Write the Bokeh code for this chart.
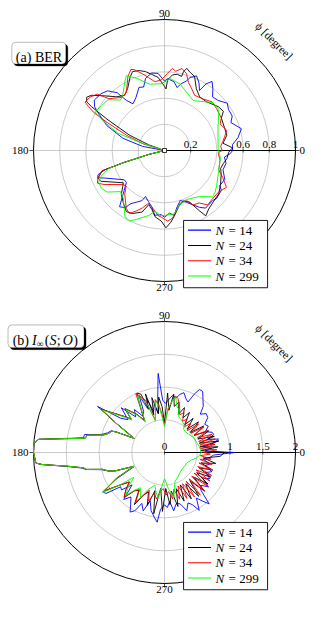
import numpy as np
from bokeh.plotting import figure
from bokeh.layouts import column
from bokeh.models import Range1d, BoxAnnotation
from bokeh.embed import file_html
from bokeh.resources import INLINE
from bokeh.core.properties import value

# ---------------- data ----------------
N_LABELS = ["14", "24", "34", "299"]
COLORS = ["#0000ff", "#000000", "#ff0000", "#00ff00"]

# (a) BER  : (angle phi [deg], BER)
ber_n14 = [(0, 0.52), (4.8, 0.52), (10, 0.57), (15.8, 0.61), (22.8, 0.55), (27, 0.58), (32.7, 0.58), (37, 0.60),
           (43, 0.56), (48.2, 0.55), (52, 0.60), (55.5, 0.64), (58, 0.60), (59.7, 0.53), (63, 0.58), (66.8, 0.62),
           (70.7, 0.59), (72.2, 0.56), (76.5, 0.52), (78.6, 0.49), (82.2, 0.53), (87.5, 0.55), (90, 0.53),
           (94.7, 0.59), (99.4, 0.60), (104.7, 0.57), (108.2, 0.51), (112, 0.52), (118.2, 0.46), (124, 0.43),
           (127.2, 0.48), (129.3, 0.57), (133.7, 0.63), (138.3, 0.65), (144.3, 0.66), (147.9, 0.63), (150.6, 0.58),
           (156.6, 0.48), (163.7, 0.33), (169.4, 0.17), (180, 0.0), (194, 0.12), (196.5, 0.33), (198, 0.48),
           (200, 0.54), (202.2, 0.55), (204.9, 0.50), (216, 0.38), (220, 0.38), (231.4, 0.55), (235.3, 0.53),
           (237.7, 0.48), (245.8, 0.42), (247.6, 0.38), (252.7, 0.41), (257.2, 0.44), (261.5, 0.50), (267, 0.49),
           (270, 0.51), (274.4, 0.48), (278.5, 0.50), (282.7, 0.44), (287.6, 0.40), (293, 0.43), (301.7, 0.51),
           (305.5, 0.54), (313.7, 0.53), (317.6, 0.54), (325, 0.53), (327.6, 0.50), (334.4, 0.51), (341.8, 0.47),
           (348.2, 0.48), (353.7, 0.46), (357, 0.50), (360, 0.52)]
ber_n24 = [(0, 0.50), (2.2, 0.52), (7.1, 0.45), (13.8, 0.49), (21, 0.49), (29.8, 0.50), (33.6, 0.54), (39.1, 0.53),
           (49.7, 0.49), (56.8, 0.49), (62.7, 0.53), (67.9, 0.61), (72.2, 0.63), (74.8, 0.65), (76.4, 0.62),
           (77, 0.58), (80.5, 0.59), (84, 0.58), (87.5, 0.54), (88.6, 0.47), (90, 0.49), (95, 0.56), (99.6, 0.59),
           (103.6, 0.62), (107.6, 0.64), (112, 0.65), (115, 0.62), (120.8, 0.55), (125.9, 0.52), (131.8, 0.55),
           (137.7, 0.62), (143, 0.70), (145.6, 0.72), (148, 0.70), (149, 0.65), (151.4, 0.50), (156.4, 0.29),
           (160.2, 0.13), (180, 0.0), (194, 0.12), (196.5, 0.32), (198, 0.50), (202.5, 0.55), (205.8, 0.54),
           (218, 0.40), (220.7, 0.42), (225.4, 0.47), (232, 0.51), (238.1, 0.55), (243, 0.54), (250, 0.50),
           (253.8, 0.43), (257.9, 0.46), (261.8, 0.51), (267.4, 0.54), (271.1, 0.59), (275, 0.55), (278.2, 0.51),
           (284.4, 0.44), (290.9, 0.41), (296.1, 0.44), (300, 0.53), (302.3, 0.59), (307, 0.56), (313.9, 0.54),
           (321.3, 0.53), (328.8, 0.50), (337.1, 0.47), (342.3, 0.45), (347.5, 0.46), (352.5, 0.48), (358.3, 0.49),
           (360, 0.50)]
ber_n34 = [(0, 0.44), (4.3, 0.43), (8.7, 0.45), (12.8, 0.47), (17.9, 0.50), (25.4, 0.47), (29.8, 0.50), (38.9, 0.51),
           (45.6, 0.52), (53.7, 0.49), (61.3, 0.48), (66.8, 0.52), (70.6, 0.55), (74, 0.61), (78, 0.64), (82, 0.61),
           (84.5, 0.63), (87.7, 0.59), (92.6, 0.54), (97.8, 0.53), (102.4, 0.57), (106.1, 0.61), (110.6, 0.66),
           (112.5, 0.67), (116.3, 0.63), (123.3, 0.53), (128.8, 0.52), (137, 0.58), (140, 0.67), (144.5, 0.70),
           (148.6, 0.71), (150, 0.67), (151.8, 0.61), (153.9, 0.49), (158.2, 0.31), (162.8, 0.17), (180, 0.0),
           (194, 0.12), (196.5, 0.32), (198, 0.50), (202.5, 0.55), (205.9, 0.57), (209.3, 0.53), (219.4, 0.41),
           (223, 0.40), (227.6, 0.45), (236.6, 0.53), (240.8, 0.55), (244.9, 0.51), (248.9, 0.47), (253.3, 0.42),
           (257.2, 0.44), (264.5, 0.50), (267.2, 0.51), (272.6, 0.54), (276.7, 0.52), (282, 0.46), (286.6, 0.42),
           (294, 0.42), (297.6, 0.47), (303.4, 0.48), (308.4, 0.53), (314.3, 0.52), (322.3, 0.52), (329.3, 0.55),
           (335.1, 0.49), (340.3, 0.44), (350, 0.43), (357.7, 0.41), (360, 0.44)]
ber_n299 = [(0, 0.41), (22, 0.44), (37, 0.52), (44.7, 0.52), (60, 0.44), (76.7, 0.52), (85, 0.55), (93, 0.51),
            (103, 0.52), (111, 0.59), (117, 0.64), (119.6, 0.61), (127, 0.53), (131, 0.51), (138, 0.58), (145, 0.59),
            (151, 0.61), (154.2, 0.52), (159.6, 0.38), (162, 0.19), (180, 0.0), (194, 0.12), (196.5, 0.32),
            (198, 0.45), (202, 0.52), (205.8, 0.56), (211, 0.56), (216, 0.54), (223, 0.46), (229, 0.48),
            (239.3, 0.59), (243.7, 0.60), (247.5, 0.57), (256.5, 0.51), (261, 0.47), (267, 0.50), (278.7, 0.49),
            (286, 0.43), (294, 0.41), (307, 0.44), (316, 0.51), (320.8, 0.50), (326, 0.48), (340.5, 0.44),
            (353, 0.43), (360, 0.41)]

# (b) I_inf(S;O) : (angle phi [deg], mutual information)
mi_n14 = [(0, 1.07), (2, 0.62), (5, 0.72), (8, 0.60), (11, 0.78), (14, 0.85), (17, 0.68), (20, 0.80), (23, 0.79),
          (27, 0.70), (31, 0.78), (35, 0.75), (39, 0.85), (43, 0.87), (47, 0.80), (50, 0.92), (54, 1.0), (58, 1.10),
          (61, 1.10), (63, 1.0), (65, 0.85), (68, 0.88), (72, 0.96), (75, 0.92), (78, 0.85), (82, 0.88), (86, 0.80),
          (89, 0.75), (92, 0.80), (94.6, 1.21), (97, 0.85), (99, 0.60), (102, 0.75), (105, 0.65), (108, 0.85),
          (111, 0.72), (114, 0.95), (117, 0.70), (121, 0.65), (125, 0.80), (129, 0.70), (134, 0.95), (138, 0.75),
          (142, 0.85), (145.5, 1.24), (149, 0.85), (152, 0.62), (155, 0.52), (157, 0.82), (158, 0.88), (161, 0.92),
          (164, 1.0), (167.3, 1.25), (169.8, 1.26), (174, 1.93), (176, 2.0), (180, 2.0), (184.7, 1.97),
          (185.6, 1.88), (188, 1.52), (190.7, 1.28), (192.2, 1.23), (195.2, 1.0), (198.3, 0.90), (200.5, 0.80),
          (202.6, 0.61), (205, 0.52), (209, 0.85), (212.5, 1.12), (215, 1.09), (218, 0.85), (221, 0.87),
          (225, 0.70), (229, 0.95), (233, 0.85), (237, 0.95), (240, 1.05), (243, 1.0), (246, 0.85), (250, 0.95),
          (253.5, 0.77), (257, 0.91), (261, 1.0), (264, 1.07), (266, 0.87), (270, 0.80), (273, 0.84), (276, 0.75),
          (279, 0.90), (283, 0.80), (287, 0.82), (291, 0.95), (295, 0.85), (298, 0.90), (301, 1.03), (305, 0.85),
          (308, 0.94), (311, 1.04), (314, 0.80), (318, 0.75), (322, 0.85), (326, 0.70), (330, 0.80), (334, 0.70),
          (338, 0.78), (342, 0.65), (346, 0.72), (350, 0.60), (354, 0.70), (357, 0.75), (360, 1.07)]
mi_n24 = [(0, 0.92), (3, 0.55), (6, 0.82), (9, 0.55), (12, 0.85), (15, 0.55), (18, 0.80), (22, 0.55), (26, 0.75),
          (30, 0.52), (34, 0.72), (38, 0.50), (42, 0.70), (46, 0.50), (50, 0.68), (54, 0.52), (58, 0.72), (62, 0.60),
          (66, 0.75), (70, 0.62), (74, 0.80), (78, 0.72), (81, 0.90), (84, 0.65), (87, 0.91), (90, 0.45), (93, 0.70),
          (96, 0.85), (99, 0.60), (103, 0.86), (106, 0.60), (108, 0.94), (110, 0.70), (112, 0.96), (115, 1.0),
          (119, 0.72), (122, 0.58), (126, 0.72), (129, 0.80), (132, 0.90), (135, 0.72), (138, 0.82), (142, 0.97),
          (145.7, 1.17), (149, 0.85), (152, 0.65), (155, 0.51), (157, 0.80), (158, 0.87), (161, 0.90), (164, 0.97),
          (167.3, 1.21), (169.8, 1.23), (174, 1.93), (176, 2.0), (180, 2.0), (184.7, 1.97), (185.6, 1.88),
          (188, 1.50), (190.7, 1.26), (192.2, 1.22), (195.2, 0.98), (198.3, 0.90), (200.5, 0.80), (202.6, 0.61),
          (204.3, 0.51), (208, 0.82), (212.5, 1.09), (216, 0.85), (220, 0.70), (224, 0.82), (228, 0.92),
          (232, 0.74), (236, 0.70), (240, 0.92), (244, 0.72), (248, 0.65), (252, 0.85), (256, 0.60), (260, 0.95),
          (264, 0.55), (268, 0.90), (272, 0.55), (276, 0.80), (280, 0.60), (284, 0.85), (288, 0.58), (292, 0.80),
          (296, 0.55), (300, 0.82), (304, 0.58), (308, 0.85), (312, 0.58), (316, 0.85), (320, 0.58), (324, 0.82),
          (328, 0.58), (332, 0.80), (336, 0.58), (340, 0.78), (344, 0.58), (348, 0.80), (352, 0.60), (356, 0.85),
          (360, 0.92)]
mi_n34 = [(0, 0.60), (3, 0.80), (6, 0.55), (9, 0.78), (12, 0.55), (15, 0.80), (18, 0.55), (21, 0.78), (24, 0.55),
          (27, 0.75), (30, 0.52), (33, 0.72), (36, 0.50), (40, 0.68), (44, 0.48), (48, 0.60), (52, 0.50), (56, 0.62),
          (60, 0.55), (64, 0.68), (68, 0.62), (72, 0.75), (76, 0.85), (79, 0.88), (82, 0.78), (86, 0.62), (90, 0.42),
          (94, 0.60), (97, 0.75), (100, 0.82), (103, 0.62), (106, 0.52), (110, 0.85), (114, 0.95), (116, 1.0),
          (119, 0.72), (122, 0.57), (126, 0.72), (129, 0.80), (132, 0.90), (135, 0.72), (138, 0.82), (142, 0.97),
          (145.7, 1.17), (149, 0.85), (152, 0.65), (155, 0.51), (157, 0.80), (158, 0.87), (161, 0.90), (164, 0.97),
          (167.3, 1.21), (169.8, 1.23), (174, 1.93), (176, 2.0), (180, 2.0), (184.7, 1.97), (185.6, 1.88),
          (188, 1.50), (190.7, 1.26), (192.2, 1.22), (195.2, 0.98), (198.3, 0.90), (200.5, 0.80), (202.6, 0.61),
          (204.3, 0.51), (208, 0.82), (212.5, 1.09), (216, 0.85), (220, 0.70), (224, 0.82), (228, 0.92),
          (232, 0.74), (236, 0.68), (240, 0.88), (244, 0.72), (248, 0.62), (252, 0.78), (256, 0.64), (260, 0.72),
          (264, 0.60), (268, 0.55), (272, 0.65), (276, 0.60), (280, 0.72), (284, 0.58), (288, 0.75), (292, 0.55),
          (296, 0.78), (300, 0.55), (304, 0.82), (307, 0.55), (310, 0.85), (313, 0.55), (316, 0.85), (319, 0.55),
          (322, 0.85), (325, 0.55), (328, 0.82), (331, 0.55), (334, 0.80), (337, 0.55), (340, 0.78), (343, 0.55),
          (346, 0.75), (349, 0.55), (352, 0.72), (355, 0.55), (358, 0.70), (360, 0.60)]
mi_n299 = [(0, 0.56), (5, 0.55), (9.3, 0.54), (15, 0.52), (20, 0.51), (28, 0.50), (37.7, 0.46), (45, 0.45),
           (50.5, 0.46), (55, 0.52), (60.8, 0.55), (65, 0.57), (68.3, 0.59), (72, 0.70), (74.4, 0.72), (78.6, 0.86),
           (81.3, 0.80), (85.9, 0.67), (90, 0.40), (94, 0.55), (97, 0.72), (100.4, 0.80), (103, 0.60), (106, 0.50),
           (110, 0.80), (114, 0.92), (115.6, 0.96), (119, 0.70), (122, 0.55), (126, 0.70), (129, 0.78), (132, 0.88),
           (135, 0.70), (138, 0.80), (142, 0.95), (145.7, 1.15), (149, 0.85), (152, 0.65), (155, 0.51), (157, 0.80),
           (158, 0.87), (161, 0.90), (164, 0.97), (167.3, 1.21), (169.8, 1.23), (174, 1.93), (176, 2.0), (180, 2.0),
           (184.7, 1.97), (185.6, 1.88), (188, 1.50), (190.7, 1.26), (192.2, 1.22), (195.2, 0.98), (198.3, 0.90),
           (200.5, 0.80), (202.6, 0.61), (204.3, 0.51), (208, 0.80), (213, 1.12), (216, 0.85), (219, 0.60),
           (224, 0.78), (228, 0.88), (232, 0.72), (236, 0.65), (242, 0.78), (246, 0.62), (253.6, 0.52), (258, 0.62),
           (262, 0.70), (266, 0.50), (270, 0.40), (276, 0.55), (282, 0.70), (286, 0.55), (290, 0.47), (300, 0.42),
           (310, 0.38), (316, 0.37), (325, 0.37), (334.7, 0.375), (344.8, 0.43), (349.8, 0.49), (355.8, 0.54),
           (360, 0.56)]

ber_series = [ber_n14, ber_n24, ber_n34, ber_n299]
mi_series = [mi_n14, mi_n24, mi_n34, mi_n299]

ber_rings = [0.2, 0.4, 0.6, 0.8]
ber_rmax = 1.0
ber_tick_pos = [0.2, 0.6, 0.8, 1.0]
ber_tick_txt = ["0.2", "0.6", "0.8", "1"]

mi_rings = [0.5, 1.0, 1.5]
mi_rmax = 2.0
mi_tick_pos = [0.0, 1.0, 1.5, 2.0]
mi_tick_txt = ["0", "1", "1.5", "2"]

angle_ticks = [0, 90, 180, 270]
angle_txt = ["0", "90", "180", "270"]

# ---------------- layout / style ----------------
FONT = "Liberation Serif"
W = 307
R = 131.0          # outer radius in px
R_REF = 137.3      # outer radius of the reference drawing (layout offsets are given in those px)
CX = 164.0         # pole x (px from left of canvas)
GRID = "#b4b4b4"
TICK_FS = "11px"


def polar_fig(H, CY, rmax, rings, tick_pos, tick_txt, series, title_anchor, title_size, title_parts, pole_mark):
    k = R / rmax

    def u(px):              # screen px -> data units
        return px / k

    def ur(px):             # reference-layout px -> data units (scales with the circle)
        return px * rmax / R_REF

    p = figure(width=W, height=H, x_range=Range1d(-u(CX), u(W - CX)), y_range=Range1d(-u(H - CY), u(CY)),
               x_axis_type=None, y_axis_type=None, toolbar_location=None, output_backend="svg",
               min_border=0, outline_line_color=None, background_fill_color="white", border_fill_color="white")

    # grid rings
    p.circle(x=[0] * len(rings), y=[0] * len(rings), radius=rings, fill_color=None,
             line_color=GRID, line_width=0.7)
    # spokes
    th = np.deg2rad([90, 180, 270])
    p.segment(x0=0, y0=0, x1=rmax * np.cos(th), y1=rmax * np.sin(th), line_color=GRID, line_width=0.7)
    # outer circle
    p.circle(x=[0], y=[0], radius=[rmax], fill_color=None, line_color="black", line_width=1.0)
    # radial axis along 0 deg
    p.segment(x0=[0], y0=[0], x1=[rmax], y1=[0], line_color="black", line_width=1.1)
    # angular tick marks
    ta = np.deg2rad(angle_ticks)
    p.segment(x0=rmax * np.cos(ta), y0=rmax * np.sin(ta), x1=(rmax + u(4)) * np.cos(ta),
              y1=(rmax + u(4)) * np.sin(ta), line_color="black", line_width=0.7)
    # radial tick marks
    p.segment(x0=tick_pos, y0=[-u(2)] * len(tick_pos), x1=tick_pos, y1=[u(2)] * len(tick_pos),
              line_color="black", line_width=0.6)

    tf = dict(text_font=value(FONT), text_font_size=TICK_FS, text_color="black")
    # angle labels
    p.text(x=[rmax + u(4)], y=[0], text=[angle_txt[0]], text_align="left", text_baseline="middle", **tf)
    p.text(x=[0], y=[rmax + u(3)], text=[angle_txt[1]], text_align="center", text_baseline="bottom", **tf)
    p.text(x=[-(rmax + u(5))], y=[0], text=[angle_txt[2]], text_align="right", text_baseline="middle", **tf)
    p.text(x=[0], y=[-(rmax + u(2))], text=[angle_txt[3]], text_align="center", text_baseline="top", **tf)

    # radial tick labels
    p.text(x=tick_pos, y=[u(3)] * len(tick_pos), text=tick_txt, text_align="center", text_baseline="bottom", **tf)

    # axis label phi [degree]
    d = ur(162.5)
    p.text(x=[d * np.cos(np.pi / 4)], y=[d * np.sin(np.pi / 4)], text=["\u03d5 [degree]"], angle=-np.pi / 4,
           text_align="center", text_baseline="middle", text_font=value(FONT), text_font_size="11.5px",
           text_color="black")

    # curves
    for s, c in zip(series, COLORS):
        a = np.deg2rad([t for t, _ in s])
        r = np.array([v for _, v in s])
        p.line(r * np.cos(a), r * np.sin(a), line_color=c, line_width=0.9)

    if pole_mark:
        p.scatter(x=[0], y=[0], marker="square", size=4, fill_color="white", line_color="black", line_width=0.8)

    # legend (box + samples): anchor scales with the circle, inner layout in screen px
    lx, ly = ur(20), ur(-73.3)
    p.quad(left=[lx], right=[lx + u(84)], top=[ly], bottom=[ly - u(67.3)], fill_color="white",
           line_color="black", line_width=0.9)
    rows = [9.7, 25.0, 40.3, 55.6]
    for yy, c, n in zip(rows, COLORS, N_LABELS):
        y = ly - u(yy)
        p.segment(x0=[lx + u(4.5)], y0=[y], x1=[lx + u(27.5)], y1=[y], line_color=c, line_width=1.1)
        p.text(x=[lx + u(32.0)], y=[y], text=["N"], text_align="left", text_baseline="middle",
               text_font=value(FONT), text_font_style="italic", text_font_size="13px", text_color="black")
        p.text(x=[lx + u(45.0)], y=[y], text=["= " + n], text_align="left", text_baseline="middle",
               text_font=value(FONT), text_font_size="13px", text_color="black")

    # title box with shadow
    bx, by = ur(title_anchor[0]), ur(title_anchor[1])
    bw, bh = u(title_size[0]), u(title_size[1])
    p.add_layout(BoxAnnotation(left=bx + u(2), right=bx + bw + u(2), bottom=by - bh - u(2), top=by - u(2),
                               fill_color="black", fill_alpha=1.0, line_color="black", line_width=1,
                               border_radius=4))
    p.add_layout(BoxAnnotation(left=bx, right=bx + bw, bottom=by - bh, top=by,
                               fill_color="white", fill_alpha=1.0, line_color="black", line_width=0.9,
                               border_radius=4))
    for txt, dx, dy, style, size in title_parts:
        p.text(x=[bx + u(dx)], y=[by - u(dy)], text=[txt], text_align="left", text_baseline="alphabetic",
               text_font=value(FONT), text_font_style=style, text_font_size=size, text_color="black",
               level="overlay")
    return p


ber_title = [("(a) BER", 4.0, 15.4, "normal", "14px")]
mi_title = [("(b)", 4.6, 15.8, "normal", "14px"),
            ("I", 24.0, 15.8, "italic", "14px"),
            ("\u221e", 28.6, 19.0, "normal", "9.5px"),
            ("(", 36.6, 15.8, "normal", "14px"),
            ("S", 41.4, 15.8, "italic", "14px"),
            (";", 48.8, 15.8, "normal", "14px"),
            ("O", 54.6, 15.8, "italic", "14px"),
            (")", 65.2, 15.8, "normal", "14px")]

p1 = polar_fig(300, 150, ber_rmax, ber_rings, ber_tick_pos, ber_tick_txt, ber_series,
               (-160, 113.4), (54, 21.7), ber_title, True)
p2 = polar_fig(304, 152, mi_rmax, mi_rings, mi_tick_pos, mi_tick_txt, mi_series,
               (-164, 133.7), (76, 22.7), mi_title, False)

layout = column(p1, p2, spacing=0)
open("out.html", "w").write(file_html(layout, INLINE))
